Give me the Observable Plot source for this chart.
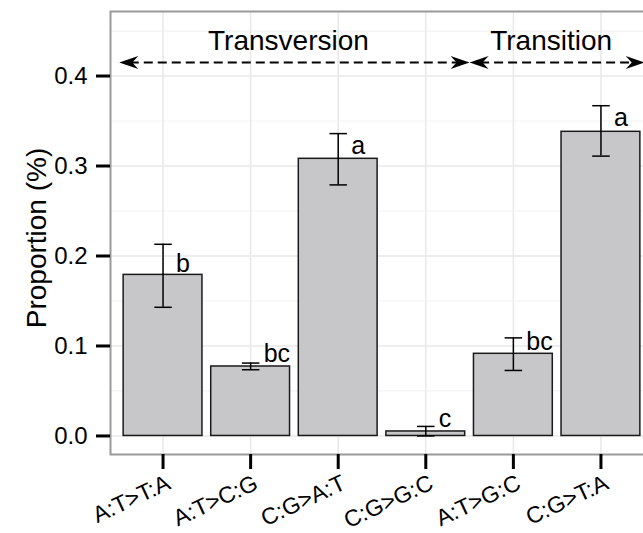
<!DOCTYPE html>
<html><head><meta charset="utf-8">
<script src="https://cdn.jsdelivr.net/npm/d3@7"></script>
<script src="https://cdn.jsdelivr.net/npm/@observablehq/plot@0.6"></script>
<style>html,body{margin:0;padding:0;background:#fff;overflow:hidden;width:643px;height:533px;} svg{max-width:none !important;}</style>
</head><body><div id="chart"></div>
<script>
const categories = ["A:T>T:A","A:T>C:G","C:G>A:T","C:G>G:C","A:T>G:C","C:G>T:A"];
const proportion = [0.179, 0.0772, 0.308, 0.005, 0.0913, 0.338];
const errLow = [0.143, 0.0736, 0.279, 0.0, 0.0728, 0.311];
const errHigh = [0.213, 0.081, 0.336, 0.0106, 0.109, 0.367];
const letters = ["b","bc","a","c","bc","a"];
const letterLevel = [0.182, 0.082, 0.313, 0.0098, 0.095, 0.345];
const groups = ["Transversion","Transition"];
const groupStart = [0.5, 4.5];
const groupEnd = [4.5, 6.5];
const groupLevel = [0.415, 0.415];
const yTicks = [0, 0.1, 0.2, 0.3, 0.4];
const yMinor = [0.05, 0.15, 0.25, 0.35, 0.45];

const data = categories.map((c, k) => ({i: k + 1, c, v: proportion[k], lo: errLow[k], hi: errHigh[k], l: letters[k], ly: letterLevel[k]}));
const grp = groups.map((g, k) => ({g, s: groupStart[k], e: groupEnd[k], y: groupLevel[k]}));
const heads = grp.flatMap(d => [{x: d.s, y: d.y, r: 180}, {x: d.e, y: d.y, r: 0}]);

const arrowHead = {
  draw(context) {
    const L = 19, W = 6.5, N = 13;
    context.moveTo(0, 0);
    context.lineTo(-L, -W);
    context.lineTo(-N, 0);
    context.lineTo(-L, W);
    context.closePath();
  }
};

const font = "'Liberation Sans', Arial, Helvetica, sans-serif";

const chart = Plot.plot({
  width: 660,
  height: 533,
  marginLeft: 110,
  marginRight: 7,
  marginTop: 11,
  marginBottom: 79,
  style: {fontFamily: font, color: "#000", background: "#fff", overflow: "visible", maxWidth: "none"},
  x: {domain: [0.4, 6.6], axis: null},
  y: {domain: [-0.0206, 0.4717], axis: null},
  marks: [
    Plot.ruleY(yMinor, {stroke: "#f3f3f3", strokeWidth: 1.2}),
    Plot.ruleY(yTicks, {stroke: "#e9e9e9", strokeWidth: 1.6}),
    Plot.ruleX(data, {x: "i", stroke: "#e9e9e9", strokeWidth: 1.6}),
    Plot.rectY(data, {x1: d => d.i - 0.45, x2: d => d.i + 0.45, y1: 0, y2: "v", fill: "#c7c7c9", stroke: "#1a1a1a", strokeWidth: 1.5}),
    Plot.ruleX(data, {x: "i", y1: "lo", y2: "hi", stroke: "#000", strokeWidth: 1.5}),
    Plot.link(data, {x1: d => d.i - 0.1, x2: d => d.i + 0.1, y1: "hi", y2: "hi", stroke: "#000", strokeWidth: 1.5}),
    Plot.link(data, {x1: d => d.i - 0.1, x2: d => d.i + 0.1, y1: "lo", y2: "lo", stroke: "#000", strokeWidth: 1.5}),
    Plot.text(data, {x: "i", y: "ly", text: "l", textAnchor: "start", lineAnchor: "bottom", dx: 13, dy: 0, fontSize: 25, fill: "#000"}),
    Plot.link(grp, {x1: d => d.s + 0.12, x2: d => d.e - 0.12, y1: "y", y2: "y", stroke: "#000", strokeWidth: 2, strokeDasharray: "9,5"}),
    Plot.dot(heads, {x: "x", y: "y", rotate: "r", symbol: arrowHead, fill: "#000", stroke: null, r: 5}),
    Plot.text(grp, {x: d => (d.s + d.e) / 2, y: "y", text: "g", lineAnchor: "bottom", dx: -6, dy: -13, fontSize: 28, fill: "#000"}),
    Plot.frame({stroke: "#9a9a9a", strokeWidth: 2}),
    Plot.axisY(yTicks, {tickSize: 14, tickPadding: 9, strokeWidth: 3, fontSize: 24, tickFormat: d3.format(".1f"), label: null, stroke: "#000", fill: "#000"}),
    Plot.axisX([1, 2, 3, 4, 5, 6], {tickSize: 15, tickFormat: () => "", strokeWidth: 3, label: null, stroke: "#000"}),
    Plot.text(data, {x: "i", frameAnchor: "bottom", text: "c", rotate: -25, textAnchor: "end", lineAnchor: "top", dx: 2, dy: 19, fontSize: 23, fill: "#000"}),
    Plot.text(["Proportion (%)"], {frameAnchor: "left", rotate: -90, textAnchor: "middle", dx: -73, dy: 5, fontSize: 28, fill: "#000"})
  ]
});
document.getElementById("chart").appendChild(chart);
</script>
</body></html>
